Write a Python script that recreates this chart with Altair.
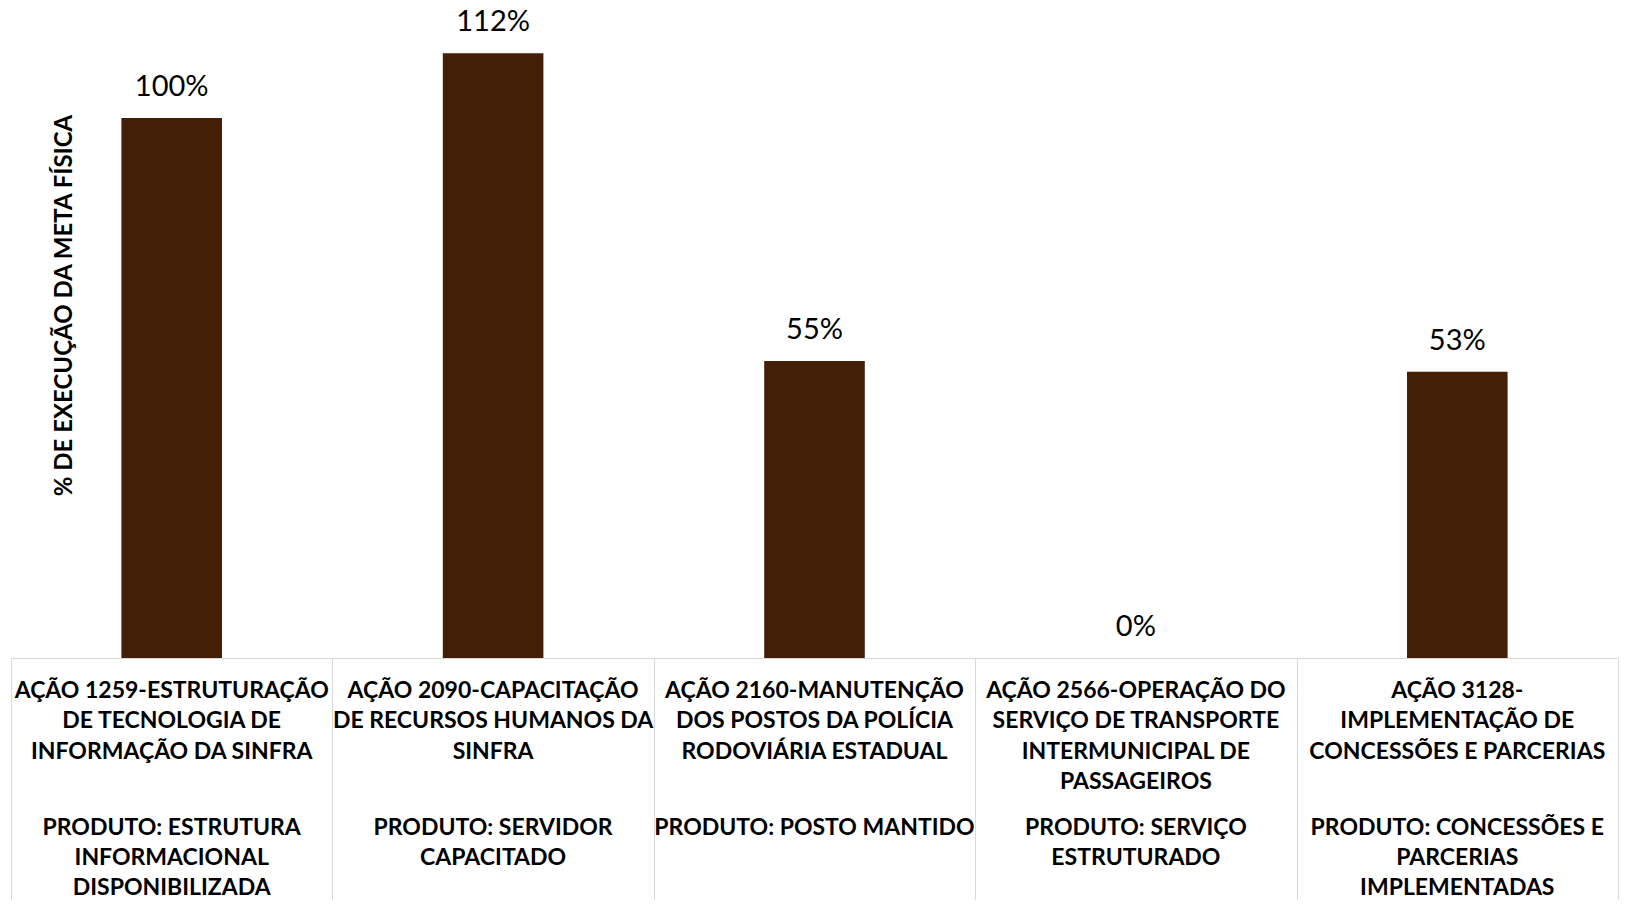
import altair as alt
import pandas as pd

# Category texts (lines separated by "|")
acoes = [
    "AÇÃO 1259-ESTRUTURAÇÃO|DE TECNOLOGIA DE|INFORMAÇÃO DA SINFRA",
    "AÇÃO 2090-CAPACITAÇÃO|DE RECURSOS HUMANOS DA|SINFRA",
    "AÇÃO 2160-MANUTENÇÃO|DOS POSTOS DA POLÍCIA|RODOVIÁRIA ESTADUAL",
    "AÇÃO 2566-OPERAÇÃO DO|SERVIÇO DE TRANSPORTE|INTERMUNICIPAL DE|PASSAGEIROS",
    "AÇÃO 3128-|IMPLEMENTAÇÃO DE|CONCESSÕES E PARCERIAS",
]
produtos = [
    "PRODUTO: ESTRUTURA|INFORMACIONAL|DISPONIBILIZADA",
    "PRODUTO: SERVIDOR|CAPACITADO",
    "PRODUTO: POSTO MANTIDO",
    "PRODUTO: SERVIÇO|ESTRUTURADO",
    "PRODUTO: CONCESSÕES E|PARCERIAS|IMPLEMENTADAS",
]
valores = [1.00, 1.12, 0.55, 0.00, 0.53]

y_title = "% DE EXECUÇÃO DA META FÍSICA"

SEP = "##"
df = pd.DataFrame({
    "cat": [a + SEP + p for a, p in zip(acoes, produtos)],
    "valor": valores,
})

FONT = "Lato"
BAR_COLOR = "#431f08"
GRID = "#d9d9d9"

x_scale = alt.Scale(paddingInner=0, paddingOuter=0)
y_scale = alt.Scale(domain=[0, 1.2], nice=False)
bar_w = alt.RelativeBandSize(0.313)

y_axis = alt.Axis(
    labels=False, ticks=False, domain=False, grid=False,
    title=y_title, titleX=53, titleY=295, titleAngle=270,
    titleAlign="center", titleBaseline="middle",
    titleFont=FONT, titleFontSize=24, titleFontWeight="bold",
    titleColor="#000000",
)

# table lines (baseline + cell borders)
axis_lines = alt.Axis(
    orient="bottom", title=None, grid=False, labels=False,
    domain=True, domainColor=GRID, domainWidth=1,
    ticks=True, tickBand="extent", tickSize=250, tickColor=GRID, tickWidth=1,
)

label_common = dict(
    orient="bottom", title=None, grid=False, domain=False, ticks=False,
    labelAngle=0, labelAlign="center", labelBaseline="top",
    labelFont=FONT, labelFontSize=23, labelFontWeight="bold",
    labelColor="#000000", labelLimit=400, labelOverlap=False,
)

axis_acao = alt.Axis(
    labelPadding=21, labelLineHeight=30.6,
    labelExpr="split(split(datum.value, '##')[0], '|')",
    **label_common,
)
axis_produto = alt.Axis(
    labelPadding=158, labelLineHeight=30,
    labelExpr="split(split(datum.value, '##')[1], '|')",
    **label_common,
)

base = alt.Chart(df)

bars = base.mark_bar(color=BAR_COLOR, width=bar_w).encode(
    x=alt.X("cat:N", sort=None, scale=x_scale, axis=axis_lines),
    y=alt.Y("valor:Q", scale=y_scale, axis=y_axis),
)

text = base.mark_text(
    dy=-22, baseline="alphabetic", align="center",
    font=FONT, fontSize=29, color="#000000",
).encode(
    x=alt.X("cat:N", sort=None, scale=x_scale, axis=axis_acao),
    y=alt.Y("valor:Q", scale=y_scale, axis=y_axis),
    text=alt.Text("valor:Q", format=".0%"),
)

ghost = base.mark_bar(opacity=0, width=bar_w).encode(
    x=alt.X("cat:N", sort=None, scale=x_scale, axis=axis_produto),
    y=alt.Y("valor:Q", scale=y_scale, axis=y_axis),
)

chart = (
    alt.layer(bars, text, ghost)
    .resolve_axis(x="independent")
    .properties(
        width=1607, height=648,
        background="white",
        autosize=alt.AutoSizeParams(type="none"),
        padding={"left": 3, "top": 2, "right": 1, "bottom": 242},
    )
    .configure_view(stroke="transparent", strokeWidth=0)
)

chart.save("out.html", embed_options={"renderer": "svg", "actions": False})
